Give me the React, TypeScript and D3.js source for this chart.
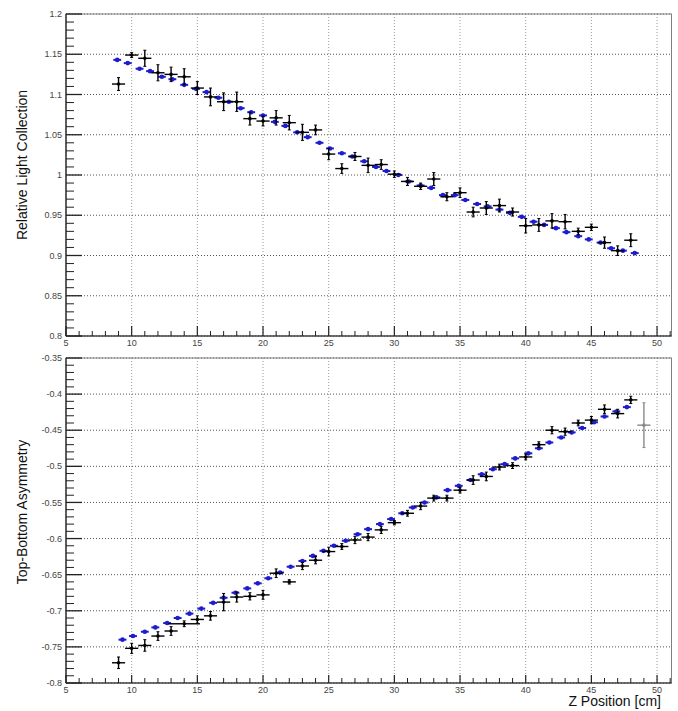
import * as d3 from "d3";

// upper panel: fit result (blue) and measured points (black)
const UP_BLUE_Z = [8.9, 9.7, 10.6, 11.4, 12.3, 13.1, 14.0, 14.9, 15.7, 16.6, 17.4, 18.3, 19.1, 20.0, 20.9, 21.7, 22.6, 23.4, 24.3, 25.1, 26.0, 26.8, 27.7, 28.6, 29.4, 30.3, 31.1, 32.0, 32.8, 33.7, 34.6, 35.4, 36.3, 37.1, 38.0, 38.8, 39.7, 40.6, 41.4, 42.3, 43.1, 44.0, 44.8, 45.7, 46.5, 47.4, 48.3];
const UP_BLUE = [1.143, 1.139, 1.132, 1.129, 1.122, 1.119, 1.112, 1.107, 1.103, 1.096, 1.091, 1.083, 1.078, 1.074, 1.066, 1.061, 1.053, 1.047, 1.04, 1.033, 1.027, 1.023, 1.017, 1.01, 1.005, 1.0, 0.992, 0.987, 0.984, 0.975, 0.975, 0.969, 0.964, 0.961, 0.957, 0.953, 0.948, 0.942, 0.938, 0.934, 0.929, 0.924, 0.92, 0.916, 0.909, 0.906, 0.903];

const UP_Z = [9, 10, 11, 12, 13, 14, 15, 16, 17, 18, 19, 20, 21, 22, 23, 24, 25, 26, 27, 28, 29, 30, 31, 32, 33, 34, 35, 36, 37, 38, 39, 40, 41, 42, 43, 44, 45, 46, 47, 48];
const UP_VAL = [1.113, 1.149, 1.145, 1.127, 1.125, 1.122, 1.108, 1.097, 1.091, 1.091, 1.07, 1.067, 1.071, 1.065, 1.053, 1.056, 1.026, 1.008, 1.023, 1.012, 1.013, 1.001, 0.992, 0.986, 0.995, 0.973, 0.978, 0.954, 0.959, 0.962, 0.954, 0.937, 0.938, 0.943, 0.942, 0.93, 0.935, 0.916, 0.906, 0.919];
const UP_ERR = [0.008, 0.003, 0.01, 0.01, 0.009, 0.01, 0.008, 0.011, 0.011, 0.012, 0.008, 0.006, 0.009, 0.009, 0.01, 0.006, 0.007, 0.006, 0.005, 0.009, 0.006, 0.004, 0.005, 0.004, 0.008, 0.005, 0.006, 0.006, 0.008, 0.008, 0.005, 0.009, 0.008, 0.009, 0.009, 0.004, 0.004, 0.007, 0.006, 0.008];

// lower panel
const LO_BLUE_Z = [9.3, 10.1, 11.0, 11.8, 12.7, 13.5, 14.4, 15.3, 16.2, 17.0, 17.9, 18.8, 19.6, 20.4, 21.3, 22.1, 23.0, 23.8, 24.6, 25.4, 26.3, 27.2, 28.0, 28.9, 29.75, 30.6, 31.4, 32.3, 33.2, 34.05, 34.9, 35.8, 36.65, 37.5, 38.4, 39.2, 40.2, 41.0, 41.8, 42.7, 43.5, 44.3, 45.2, 46.0, 46.9, 47.7];
const LO_BLUE = [-0.74, -0.735, -0.729, -0.723, -0.717, -0.71, -0.704, -0.697, -0.689, -0.682, -0.675, -0.669, -0.662, -0.655, -0.647, -0.639, -0.631, -0.624, -0.617, -0.61, -0.603, -0.594, -0.587, -0.58, -0.573, -0.565, -0.557, -0.55, -0.543, -0.533, -0.527, -0.519, -0.511, -0.504, -0.497, -0.489, -0.482, -0.475, -0.467, -0.46, -0.453, -0.447, -0.439, -0.431, -0.424, -0.418];

const LO_Z = [9, 10, 11, 12, 13, 14, 15, 16, 17, 18, 19, 20, 21, 22, 23, 24, 25, 26, 27, 28, 29, 30, 31, 32, 33, 34, 35, 36, 37, 38, 39, 40, 41, 42, 43, 44, 45, 46, 47, 48, 49];
const LO_VAL = [-0.772, -0.752, -0.748, -0.735, -0.728, -0.718, -0.712, -0.707, -0.688, -0.681, -0.68, -0.678, -0.648, -0.66, -0.638, -0.63, -0.618, -0.611, -0.602, -0.598, -0.588, -0.578, -0.565, -0.555, -0.544, -0.544, -0.533, -0.519, -0.514, -0.501, -0.499, -0.487, -0.47, -0.45, -0.452, -0.44, -0.436, -0.421, -0.427, -0.408, -0.443];
const LO_ERR = [0.008, 0.007, 0.008, 0.006, 0.006, 0.004, 0.005, 0.006, 0.012, 0.007, 0.005, 0.006, 0.006, 0.003, 0.005, 0.005, 0.006, 0.004, 0.005, 0.005, 0.005, 0.003, 0.004, 0.005, 0.004, 0.004, 0.004, 0.006, 0.006, 0.004, 0.004, 0.004, 0.004, 0.005, 0.005, 0.004, 0.005, 0.006, 0.006, 0.005, 0.031];
const LO_WIDE_Z = [14];
const LO_GREY_Z = [49];

const X_TICKS = [5, 10, 15, 20, 25, 30, 35, 40, 45, 50];
const X_TICK_LABELS = ["5", "10", "15", "20", "25", "30", "35", "40", "45", "50"];
const UP_TICKS = [0.8, 0.85, 0.9, 0.95, 1, 1.05, 1.1, 1.15, 1.2];
const UP_TICK_LABELS = ["0.8", "0.85", "0.9", "0.95", "1", "1.05", "1.1", "1.15", "1.2"];
const LO_TICKS = [-0.8, -0.75, -0.7, -0.65, -0.6, -0.55, -0.5, -0.45, -0.4, -0.35];
const LO_TICK_LABELS = ["-0.8", "-0.75", "-0.7", "-0.65", "-0.6", "-0.55", "-0.5", "-0.45", "-0.4", "-0.35"];

const FONT = "'Liberation Sans', Arial, sans-serif";
const LEFT = 66;
const RIGHT = 671.5;
const BLUE = "#1c1cd0";

const x = d3.scaleLinear().domain([5, 51.1]).range([LEFT, RIGHT]);

type PanelProps = {
  top: number;
  bottom: number;
  domain: [number, number];
  ticks: number[];
  tickLabels: string[];
  blueZ: number[];
  blue: number[];
  z: number[];
  vals: number[];
  errs: number[];
  wideZ?: number[];
  greyZ?: number[];
  title: string;
  titleY: number;
  xTickLen: number;
};

function Panel(p: PanelProps) {
  const y = d3.scaleLinear().domain(p.domain).range([p.bottom, p.top]);
  const minorY = d3
    .range(Math.round(p.domain[0] * 100), Math.round(p.domain[1] * 100) + 1)
    .map((v) => v / 100)
    .filter((v) => !p.ticks.some((t) => Math.abs(t - v) < 1e-6));
  const minorX = d3.range(5, 52).filter((v) => v % 5 !== 0);

  return (
    <g>
      {/* grid */}
      {X_TICKS.map((t) => (
        <line key={"gx" + t} x1={x(t)} x2={x(t)} y1={p.top} y2={p.bottom}
          stroke="#9a9a9a" strokeWidth={1} strokeDasharray="1,2" />
      ))}
      {p.ticks.map((t) => (
        <line key={"gy" + t} x1={LEFT} x2={RIGHT} y1={y(t)} y2={y(t)}
          stroke="#555" strokeWidth={1} strokeDasharray="1,2" />
      ))}

      {/* frame */}
      <rect x={LEFT} y={p.top} width={RIGHT - LEFT} height={p.bottom - p.top}
        fill="none" stroke="#808080" strokeWidth={1} />
      <line x1={LEFT} x2={LEFT} y1={p.top} y2={p.bottom} stroke="#222" strokeWidth={1.2} />
      <line x1={LEFT} x2={RIGHT} y1={p.bottom} y2={p.bottom} stroke="#222" strokeWidth={1.2} />

      {/* y ticks */}
      {p.ticks.map((t) => (
        <line key={"ty" + t} x1={LEFT} x2={LEFT + 16} y1={y(t)} y2={y(t)} stroke="#222" strokeWidth={1.3} />
      ))}
      {minorY.map((t) => (
        <line key={"my" + t} x1={LEFT} x2={LEFT + 8} y1={y(t)} y2={y(t)} stroke="#222" strokeWidth={1} />
      ))}
      {p.ticks.map((t, i) => (
        <text key={"ly" + t} x={LEFT - 4} y={y(t)} dy="0.35em" textAnchor="end"
          fontFamily={FONT} fontSize={9} fill="#444">{p.tickLabels[i]}</text>
      ))}

      {/* x ticks */}
      {X_TICKS.map((t) => (
        <line key={"tx" + t} x1={x(t)} x2={x(t)} y1={p.bottom} y2={p.bottom - p.xTickLen} stroke="#222" strokeWidth={1.2} />
      ))}
      {minorX.map((t) => (
        <line key={"mx" + t} x1={x(t)} x2={x(t)} y1={p.bottom} y2={p.bottom - 5} stroke="#222" strokeWidth={1} />
      ))}
      {X_TICKS.map((t, i) => (
        <text key={"lx" + t} x={x(t)} y={p.bottom + 9.5} textAnchor="middle"
          fontFamily={FONT} fontSize={9} fill="#444">{X_TICK_LABELS[i]}</text>
      ))}

      {/* blue fit points */}
      {p.blueZ.map((z, i) => (
        <g key={"b" + i}>
          <line x1={x(z - 0.3)} x2={x(z + 0.3)} y1={y(p.blue[i])} y2={y(p.blue[i])} stroke={BLUE} strokeWidth={2} />
          <circle cx={x(z)} cy={y(p.blue[i])} r={2.3} fill={BLUE} />
        </g>
      ))}

      {/* black data points */}
      {p.z.map((z, i) => {
        const v = p.vals[i];
        const e = p.errs[i];
        const xe = p.wideZ && p.wideZ.includes(z) ? 1.2 : 0.5;
        const col = p.greyZ && p.greyZ.includes(z) ? "#8a8a8a" : "#000";
        return (
          <g key={"k" + i} stroke={col}>
            <line x1={x(z - xe)} x2={x(z + xe)} y1={y(v)} y2={y(v)} strokeWidth={1.4} />
            <line x1={x(z)} x2={x(z)} y1={y(v - e)} y2={y(v + e)} strokeWidth={1.4} />
            <line x1={x(z) - 1.5} x2={x(z) + 1.5} y1={y(v - e)} y2={y(v - e)} strokeWidth={1} />
            <line x1={x(z) - 1.5} x2={x(z) + 1.5} y1={y(v + e)} y2={y(v + e)} strokeWidth={1} />
            <circle cx={x(z)} cy={y(v)} r={1.8} fill={col} stroke="none" />
          </g>
        );
      })}

      <text transform={`translate(27,${p.titleY}) rotate(-90)`} textAnchor="middle"
        fontFamily={FONT} fontSize={14} fill="#111">{p.title}</text>
    </g>
  );
}

export default function App() {
  return (
    <svg width={678} height={711} style={{ position: "absolute", left: 0, top: 0, background: "#fff" }}>
      <rect width={678} height={711} fill="#fff" />
      <Panel top={14} bottom={336} domain={[0.8, 1.2]} ticks={UP_TICKS} tickLabels={UP_TICK_LABELS}
        blueZ={UP_BLUE_Z} blue={UP_BLUE} z={UP_Z} vals={UP_VAL} errs={UP_ERR}
        title="Relative Light Collection" titleY={165} xTickLen={10} />
      <Panel top={358} bottom={683} domain={[-0.8, -0.35]} ticks={LO_TICKS} tickLabels={LO_TICK_LABELS}
        blueZ={LO_BLUE_Z} blue={LO_BLUE} z={LO_Z} vals={LO_VAL} errs={LO_ERR}
        wideZ={LO_WIDE_Z} greyZ={LO_GREY_Z}
        title="Top-Bottom Asymmetry" titleY={512} xTickLen={8} />
      <text x={661} y={706} textAnchor="end" fontFamily={FONT} fontSize={14} fill="#111">Z Position [cm]</text>
    </svg>
  );
}
